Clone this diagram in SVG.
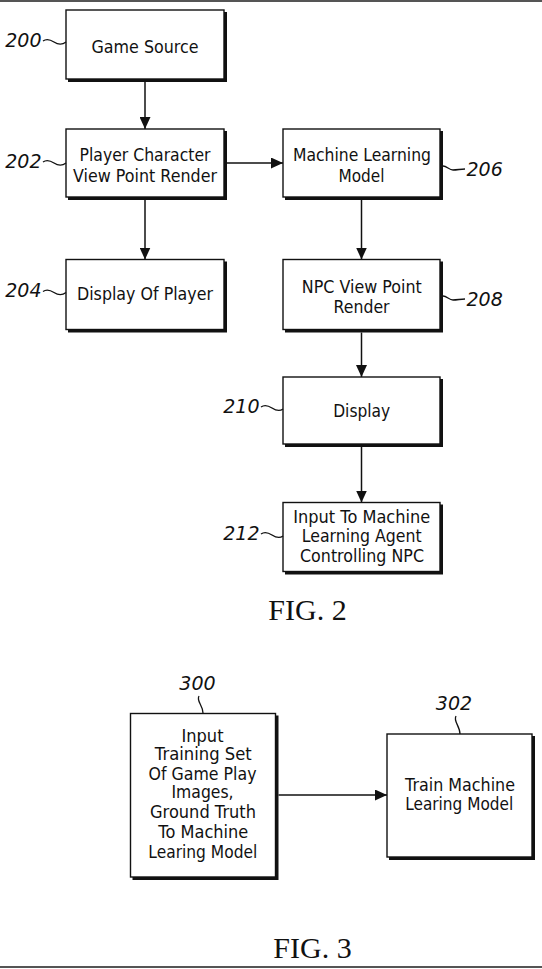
<svg xmlns="http://www.w3.org/2000/svg" width="542" height="969" viewBox="0 0 542 969">
<style>
.box{fill:#fff;stroke:#111;stroke-width:1.4}
.sh{fill:none;stroke:#111;stroke-width:3}
.t{font-family:"DejaVu Sans","Verdana",sans-serif;font-size:18.5px;fill:#111;text-anchor:middle}
.lb{font-family:"DejaVu Sans","Verdana",sans-serif;font-style:italic;font-size:19px;fill:#111}
.tl{fill:none;stroke:#111;stroke-width:1.3}
.c{fill:none;stroke:#111;stroke-width:1.5}
.fig{font-family:"Liberation Serif","Times New Roman",serif;font-size:30px;fill:#111;text-anchor:middle}
</style>
<defs>
<marker id="ah" markerUnits="userSpaceOnUse" markerWidth="12" markerHeight="11" refX="12" refY="5.5" orient="auto">
<path d="M0,0 L12,5.5 L0,11 z" fill="#111"/>
</marker>
</defs>
<rect width="542" height="969" fill="#fff"/>
<line x1="0" y1="1" x2="542" y2="1" stroke="#555" stroke-width="2"/>
<line x1="0" y1="967" x2="542" y2="967" stroke="#555" stroke-width="2"/>

<g id="connectors">
<line class="c" x1="145" y1="81" x2="145" y2="129" marker-end="url(#ah)"/>
<line class="c" x1="145" y1="200" x2="145" y2="259.5" marker-end="url(#ah)"/>
<line class="c" x1="227" y1="163" x2="283" y2="163" marker-end="url(#ah)"/>
<line class="c" x1="361.5" y1="200" x2="361.5" y2="259.5" marker-end="url(#ah)"/>
<line class="c" x1="361.5" y1="332.5" x2="361.5" y2="377" marker-end="url(#ah)"/>
<line class="c" x1="361.5" y1="447" x2="361.5" y2="502.5" marker-end="url(#ah)"/>
<line class="c" x1="278.5" y1="795" x2="387" y2="795" marker-end="url(#ah)"/>
</g>

<g id="n200">
<rect class="box" x="66" y="10" width="158" height="69"/>
<path class="sh" d="M225.5,12 V80.5 H68"/>
<text class="t" x="145" y="52.5" textLength="107" lengthAdjust="spacingAndGlyphs">Game Source</text>
<text class="lb" x="41.5" y="46.5" text-anchor="end">200</text>
<path class="tl" d="M43,41 C47,38 51,40 54,42 S61,46 66,42"/>
</g>

<g id="n202">
<rect class="box" x="66" y="129" width="158" height="68"/>
<path class="sh" d="M225.5,131 V198.5 H68"/>
<text class="t" x="145" y="161.4" textLength="131" lengthAdjust="spacingAndGlyphs">Player Character</text>
<text class="t" x="145" y="181.5" textLength="144" lengthAdjust="spacingAndGlyphs">View Point Render</text>
<text class="lb" x="41.5" y="167.5" text-anchor="end">202</text>
<path class="tl" d="M43,162 C47,159 51,161 54,163 S61,167 66,163"/>
</g>

<g id="n204">
<rect class="box" x="66" y="259.5" width="158" height="70"/>
<path class="sh" d="M225.5,261.5 V331 H68"/>
<text class="t" x="145" y="300" textLength="136" lengthAdjust="spacingAndGlyphs">Display Of Player</text>
<text class="lb" x="41.5" y="297" text-anchor="end">204</text>
<path class="tl" d="M43,291.5 C47,288.5 51,290.5 54,292.5 S61,296.5 66,292.5"/>
</g>

<g id="n206">
<rect class="box" x="283" y="129" width="157" height="68"/>
<path class="sh" d="M441.5,131 V198.5 H285"/>
<text class="t" x="362" y="161.4" textLength="138" lengthAdjust="spacingAndGlyphs">Machine Learning</text>
<text class="t" x="361.5" y="181.5" textLength="46" lengthAdjust="spacingAndGlyphs">Model</text>
<text class="lb" x="466.5" y="176">206</text>
<path class="tl" d="M443,166 C447,166 449,170 453,170 S461,169 465,169"/>
</g>

<g id="n208">
<rect class="box" x="283" y="259.5" width="157" height="70"/>
<path class="sh" d="M441.5,261.5 V331 H285"/>
<text class="t" x="361.8" y="293.2" textLength="120" lengthAdjust="spacingAndGlyphs">NPC View Point</text>
<text class="t" x="361.6" y="312.9" textLength="56" lengthAdjust="spacingAndGlyphs">Render</text>
<text class="lb" x="466.5" y="306">208</text>
<path class="tl" d="M443,296 C447,296 449,300 453,300 S461,299 465,299"/>
</g>

<g id="n210">
<rect class="box" x="283" y="377" width="157" height="67"/>
<path class="sh" d="M441.5,379 V445.5 H285"/>
<text class="t" x="361.7" y="417.3" textLength="57" lengthAdjust="spacingAndGlyphs">Display</text>
<text class="lb" x="259.5" y="412.7" text-anchor="end">210</text>
<path class="tl" d="M261,407 C265,404 269,406 272,408 S279,412 283,409"/>
</g>

<g id="n212">
<rect class="box" x="283" y="502.5" width="157" height="69"/>
<path class="sh" d="M441.5,504.5 V573 H285"/>
<text class="t" x="361.7" y="523.3" textLength="137" lengthAdjust="spacingAndGlyphs">Input To Machine</text>
<text class="t" x="361.7" y="541.7" textLength="120" lengthAdjust="spacingAndGlyphs">Learning Agent</text>
<text class="t" x="362" y="561.7" textLength="124" lengthAdjust="spacingAndGlyphs">Controlling NPC</text>
<text class="lb" x="259.5" y="540" text-anchor="end">212</text>
<path class="tl" d="M261,534 C265,531 269,533 272,535 S279,539 283,536"/>
</g>

<text class="fig" x="307.5" y="620">FIG. 2</text>

<g id="n300">
<rect class="box" x="130.5" y="713.5" width="145" height="163.5"/>
<path class="sh" d="M277,715.5 V878.5 H132.5"/>
<text class="t" x="202.5" y="741.7" textLength="42" lengthAdjust="spacingAndGlyphs">Input</text>
<text class="t" x="203.3" y="760" textLength="97" lengthAdjust="spacingAndGlyphs">Training Set</text>
<text class="t" x="202.5" y="780" textLength="108" lengthAdjust="spacingAndGlyphs">Of Game Play</text>
<text class="t" x="202.5" y="798.3" textLength="62" lengthAdjust="spacingAndGlyphs">Images,</text>
<text class="t" x="203" y="818.3" textLength="106" lengthAdjust="spacingAndGlyphs">Ground Truth</text>
<text class="t" x="203.3" y="838.3" textLength="90" lengthAdjust="spacingAndGlyphs">To Machine</text>
<text class="t" x="202.8" y="858.3" textLength="109" lengthAdjust="spacingAndGlyphs">Learing Model</text>
<text class="lb" x="197.5" y="690" text-anchor="middle">300</text>
<path class="tl" d="M199,696 C196,701 203,705 203,713"/>
</g>

<g id="n302">
<rect class="box" x="387" y="734" width="145" height="123"/>
<path class="sh" d="M533.5,736 V858.5 H389"/>
<text class="t" x="460" y="790.7" textLength="110" lengthAdjust="spacingAndGlyphs">Train Machine</text>
<text class="t" x="459.2" y="810" textLength="108" lengthAdjust="spacingAndGlyphs">Learing Model</text>
<text class="lb" x="454" y="710" text-anchor="middle">302</text>
<path class="tl" d="M456,716 C453,721 460,726 460,734"/>
</g>

<text class="fig" x="312.5" y="958">FIG. 3</text>
</svg>
